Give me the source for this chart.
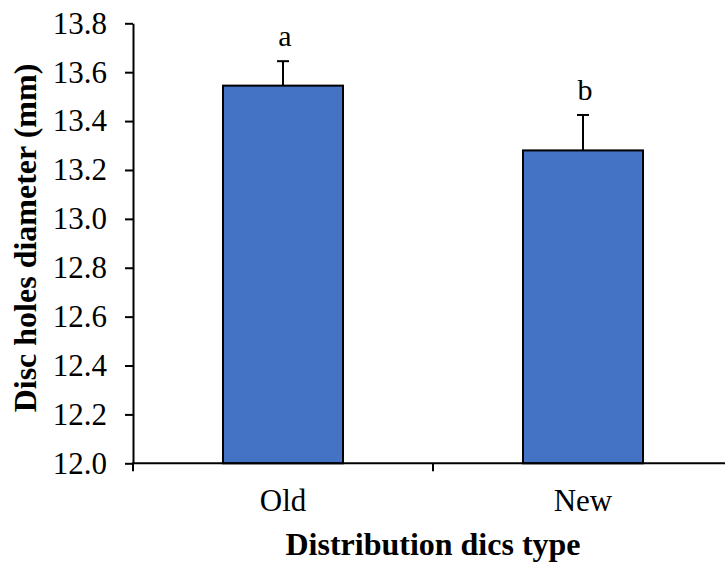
<!DOCTYPE html>
<html>
<head>
<meta charset="utf-8">
<script src="https://cdn.jsdelivr.net/npm/d3@7"></script>
<style>
  body { margin: 0; background: #fff; }
</style>
</head>
<body>
<div class="canvas"></div>
<script>
const categories = ["Old", "New"];
const means = [13.545, 13.28];
const errors = [0.10, 0.145];
const letters = ["a", "b"];
const yTicks = [12.0, 12.2, 12.4, 12.6, 12.8, 13.0, 13.2, 13.4, 13.6, 13.8];

const width = 725;
const height = 565;
const plot = { left: 133, right: 733, top: 23.3, bottom: 463.3 };
const serif = "'Liberation Serif', 'Times New Roman', 'DejaVu Serif', serif";

const svg = d3
  .select(".canvas")
  .append("svg")
  .attr("width", width)
  .attr("height", height)
  .style("font-family", serif);

const data = categories.map((c, i) => ({
  cat: c,
  mean: means[i],
  err: errors[i],
  letter: letters[i]
}));

const x = d3
  .scaleBand()
  .domain(categories)
  .range([plot.left, plot.right])
  .paddingInner(0.6)
  .paddingOuter(0.3);

const y = d3
  .scaleLinear()
  .domain([12.0, 13.8])
  .range([plot.bottom, plot.top]);

// bars
svg
  .selectAll("rect.bar")
  .data(data)
  .enter()
  .append("rect")
  .attr("class", "bar")
  .attr("x", d => x(d.cat))
  .attr("width", x.bandwidth())
  .attr("y", d => y(d.mean))
  .attr("height", d => y(12.0) - y(d.mean))
  .attr("fill", "#4472C4")
  .attr("stroke", "#000")
  .attr("stroke-width", 2);

// error bars (positive only)
const eb = svg
  .selectAll("g.err")
  .data(data)
  .enter()
  .append("g")
  .attr("class", "err")
  .attr("stroke", "#000")
  .attr("stroke-width", 2);

eb.append("line")
  .attr("x1", d => x(d.cat) + x.bandwidth() / 2)
  .attr("x2", d => x(d.cat) + x.bandwidth() / 2)
  .attr("y1", d => y(d.mean))
  .attr("y2", d => y(d.mean + d.err));

eb.append("line")
  .attr("x1", d => x(d.cat) + x.bandwidth() / 2 - 6)
  .attr("x2", d => x(d.cat) + x.bandwidth() / 2 + 6)
  .attr("y1", d => y(d.mean + d.err))
  .attr("y2", d => y(d.mean + d.err));

// significance letters
svg
  .selectAll("text.letter")
  .data(data)
  .enter()
  .append("text")
  .attr("class", "letter")
  .attr("x", d => x(d.cat) + x.bandwidth() / 2 + 2)
  .attr("y", d => y(d.mean + d.err) - 15)
  .attr("text-anchor", "middle")
  .style("font-family", serif)
  .style("font-size", "30px")
  .text(d => d.letter);

// y axis
const yAxis = d3
  .axisLeft(y)
  .tickValues(yTicks)
  .tickFormat(d3.format(".1f"))
  .tickSizeInner(8)
  .tickSizeOuter(0)
  .tickPadding(18);

const yAxisG = svg
  .append("g")
  .attr("transform", `translate(${plot.left}, 0)`)
  .call(yAxis)
  .attr("font-family", null)
  .attr("font-size", null);

yAxisG.select(".domain").attr("stroke", "#000").attr("stroke-width", 2);
yAxisG.selectAll(".tick line").attr("stroke", "#000").attr("stroke-width", 2);
yAxisG
  .selectAll(".tick text")
  .style("font-family", serif)
  .style("font-size", "31px")
  .attr("fill", "#000");

// x axis: line, ticks at category boundaries, labels centred
const xAxisG = svg.append("g");

xAxisG
  .append("line")
  .attr("x1", plot.left - 1)
  .attr("x2", width)
  .attr("y1", y(12.0))
  .attr("y2", y(12.0))
  .attr("stroke", "#000")
  .attr("stroke-width", 2);

const boundaries = [0, 1, 2].map(i => plot.left + i * x.step());

xAxisG
  .selectAll("line.xtick")
  .data(boundaries)
  .enter()
  .append("line")
  .attr("class", "xtick")
  .attr("x1", d => d)
  .attr("x2", d => d)
  .attr("y1", y(12.0))
  .attr("y2", y(12.0) + 8)
  .attr("stroke", "#000")
  .attr("stroke-width", 2);

xAxisG
  .selectAll("text.xlabel")
  .data(categories)
  .enter()
  .append("text")
  .attr("class", "xlabel")
  .attr("x", d => x(d) + x.bandwidth() / 2)
  .attr("y", y(12.0) + 8 + 18)
  .attr("dy", "0.71em")
  .attr("text-anchor", "middle")
  .style("font-family", serif)
  .style("font-size", "31px")
  .text(d => d);

// axis titles
svg
  .append("text")
  .attr("x", 433)
  .attr("y", 555)
  .attr("text-anchor", "middle")
  .style("font-family", serif)
  .style("font-size", "32px")
  .style("font-weight", "bold")
  .text("Distribution dics type");

svg
  .append("text")
  .attr("transform", "translate(36, 238) rotate(-90)")
  .attr("text-anchor", "middle")
  .style("font-family", serif)
  .style("font-size", "32px")
  .style("font-weight", "bold")
  .text("Disc holes diameter (mm)");
</script>
</body>
</html>
